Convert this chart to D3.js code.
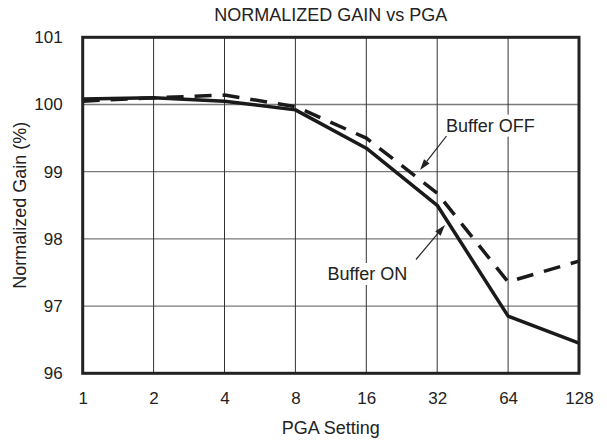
<!DOCTYPE html>
<html>
<head>
<meta charset="utf-8">
<script src="https://cdn.jsdelivr.net/npm/d3@7"></script>
<style>
  html, body { margin: 0; padding: 0; background: #fff; }
  svg { display: block; font-family: "Liberation Sans", Arial, sans-serif; }
</style>
</head>
<body>
<svg id="chart" width="607" height="443"></svg>
<script>
const pgaSettings = [1, 2, 4, 8, 16, 32, 64, 128];
const bufferOn  = [100.08, 100.1, 100.05, 99.92, 99.35, 98.5, 96.85, 96.45];
const bufferOff = [100.05, 100.1, 100.14, 99.97, 99.5, 98.68, 97.36, 97.67];
const yTicks = [96, 97, 98, 99, 100, 101];
const titleText = "NORMALIZED GAIN vs PGA";
const xTitle = "PGA Setting";
const yTitle = "Normalized Gain (%)";

const svg = d3.select("#chart");
const L = 82.7, R = 579, T = 37.3, B = 373.3;
const textColor = "#222";

const x = d3.scaleLog().base(2).domain([1, 128]).range([L, R]);
const y = d3.scaleLinear().domain([96, 101]).range([B, T]);

// grid
svg.append("g").selectAll("line").data(yTicks).join("line")
  .attr("x1", L).attr("x2", R)
  .attr("y1", d => y(d)).attr("y2", d => y(d))
  .attr("stroke", "#7a7a7a").attr("stroke-width", 1.3);
svg.append("g").selectAll("line").data(pgaSettings).join("line")
  .attr("x1", d => x(d)).attr("x2", d => x(d))
  .attr("y1", T).attr("y2", B)
  .attr("stroke", "#333").attr("stroke-width", 1);

// axes (labels only)
const xAxis = svg.append("g").attr("transform", `translate(0,${B})`)
  .call(d3.axisBottom(x).tickValues(pgaSettings).tickFormat(d3.format("d")).tickSize(0).tickPadding(19));
xAxis.select(".domain").remove();
xAxis.selectAll("text").attr("font-size", 17).attr("fill", textColor)
  .attr("font-family", "Liberation Sans, Arial, sans-serif");

const yAxis = svg.append("g").attr("transform", `translate(${L},0)`)
  .call(d3.axisLeft(y).tickValues(yTicks).tickFormat(d3.format("d")).tickSize(0).tickPadding(20));
yAxis.select(".domain").remove();
yAxis.selectAll("text").attr("font-size", 17).attr("fill", textColor)
  .attr("font-family", "Liberation Sans, Arial, sans-serif");

// annotation label backgrounds (white boxes breaking the grid)
const annotations = [
  { text: "Buffer OFF", x: 446, y: 131.7, ax1: 446.5, ay1: 136, ax2: 420, ay2: 170 },
  { text: "Buffer ON",  x: 327.5, y: 280, ax1: 416, ay1: 259.5, ax2: 445, ay2: 225 }
];

// lines
const line = d3.line().x((d, i) => x(pgaSettings[i])).y(d => y(d));
svg.append("path").datum(bufferOff).attr("d", line)
  .attr("fill", "none").attr("stroke", "#1a1a1a").attr("stroke-width", 3.5)
  .attr("stroke-dasharray", "17,11");
svg.append("path").datum(bufferOn).attr("d", line)
  .attr("fill", "none").attr("stroke", "#1a1a1a").attr("stroke-width", 3.5)
  .attr("stroke-linejoin", "round");

// annotations
const ag = svg.append("g");
annotations.forEach(a => {
  const t = ag.append("text").attr("x", a.x).attr("y", a.y)
    .attr("font-size", 18).attr("fill", textColor).text(a.text);
  const bb = t.node().getBBox();
  ag.insert("rect", "text").attr("x", bb.x - 2).attr("y", bb.y - 1)
    .attr("width", bb.width + 4).attr("height", bb.height + 2).attr("fill", "#fff");
  // arrow
  const dx = a.ax2 - a.ax1, dy = a.ay2 - a.ay1;
  const len = Math.hypot(dx, dy), ux = dx / len, uy = dy / len;
  const hl = 11, hw = 3.5;
  const bx = a.ax2 - ux * hl, by = a.ay2 - uy * hl;
  ag.append("line").attr("x1", a.ax1).attr("y1", a.ay1).attr("x2", bx).attr("y2", by)
    .attr("stroke", "#222").attr("stroke-width", 1.2);
  ag.append("path")
    .attr("d", `M${a.ax2},${a.ay2}L${bx - uy * hw},${by + ux * hw}L${bx + uy * hw},${by - ux * hw}Z`)
    .attr("fill", "#222");
});

// frame
svg.append("rect").attr("x", L).attr("y", T).attr("width", R - L).attr("height", B - T)
  .attr("fill", "none").attr("stroke", "#222").attr("stroke-width", 3);

// titles
svg.append("text").attr("x", (L + R) / 2).attr("y", 20.7).attr("text-anchor", "middle")
  .attr("font-size", 18).attr("fill", textColor).text(titleText);
svg.append("text").attr("x", (L + R) / 2).attr("y", 434).attr("text-anchor", "middle")
  .attr("font-size", 18).attr("fill", textColor).text(xTitle);
svg.append("text").attr("transform", `translate(26,${(T + B) / 2}) rotate(-90)`)
  .attr("text-anchor", "middle").attr("font-size", 18).attr("fill", textColor).text(yTitle);
</script>
</body>
</html>
